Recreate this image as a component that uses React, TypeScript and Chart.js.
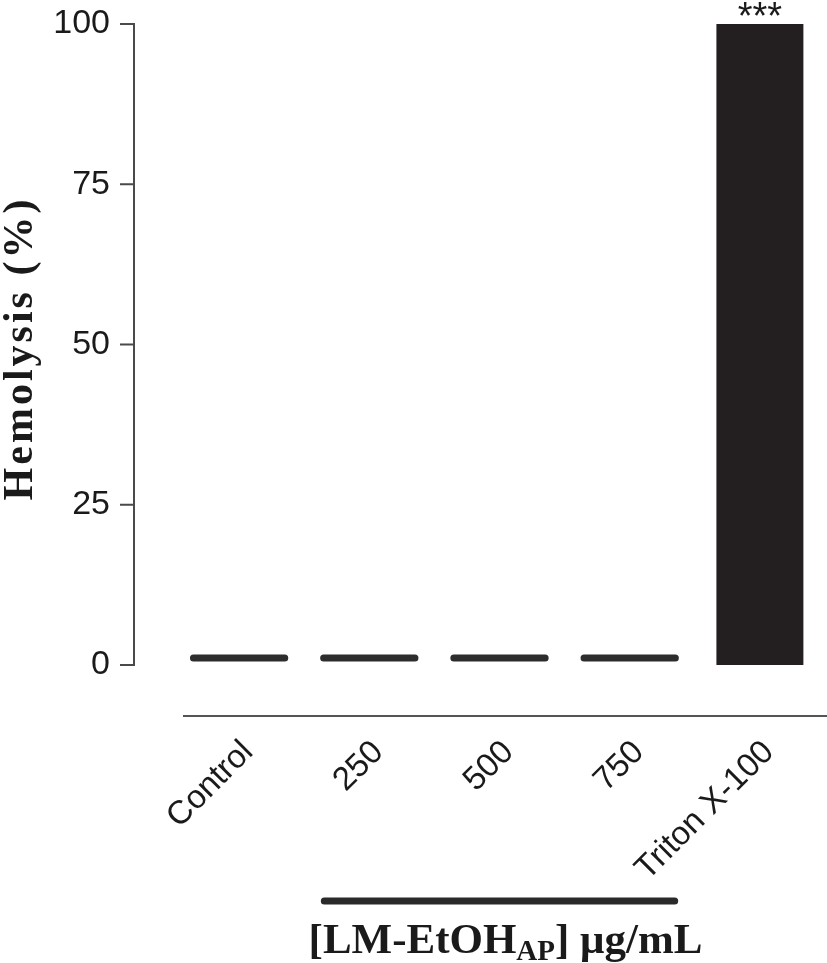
import { useEffect, useRef } from "react";
import { Chart, registerables } from "chart.js";

Chart.register(...registerables);

const categories = ["Control", "250", "500", "750", "Triton X-100"];
// extracts shown as thin floating bars (low/high edge of each marker, % hemolysis)
const extractLow = [0.55, 0.55, 0.55, 0.55, null];
const extractHigh = [1.65, 1.65, 1.65, 1.65, null];
// positive control
const tritonValues = [null, null, null, null, 100];
const significance = ["", "", "", "", "***"];
const yTickValues = [0, 25, 50, 75, 100];
const yTitle = "Hemolysis (%)";
const groupTitleMain = "[LM-EtOH";
const groupTitleSub = "AP";
const groupTitleEnd = "] \u03bcg/mL";
const groupFrom = 1;
const groupTo = 3;

const SANS = "'Liberation Sans', Arial, sans-serif";
const SERIF = "'Liberation Serif', 'Times New Roman', serif";

const overlay = {
  id: "overlay",
  afterDraw(chart: any) {
    const { ctx, chartArea, scales } = chart;
    const xs = scales.x;
    const ys = scales.y;
    ctx.save();
    // y axis line + ticks
    const ax = chartArea.left - 40;
    const yTop = ys.getPixelForValue(100);
    const yBot = ys.getPixelForValue(0);
    ctx.strokeStyle = "#4a4a4a";
    ctx.lineWidth = 2;
    ctx.beginPath();
    ctx.moveTo(ax, yTop - 1);
    ctx.lineTo(ax, yBot + 1);
    yTickValues.forEach((v) => {
      const py = ys.getPixelForValue(v);
      ctx.moveTo(ax - 14, py);
      ctx.lineTo(ax + 1, py);
    });
    ctx.stroke();

    // x baseline
    ctx.strokeStyle = "#555555";
    ctx.lineWidth = 2;
    ctx.beginPath();
    ctx.moveTo(chartArea.left + 9, chartArea.bottom + 51);
    ctx.lineTo(chart.width, chartArea.bottom + 51);
    ctx.stroke();

    // significance marks
    ctx.fillStyle = "#1a1a1a";
    ctx.font = `38px ${SANS}`;
    ctx.textAlign = "center";
    ctx.textBaseline = "alphabetic";
    significance.forEach((s, i) => {
      if (!s) return;
      const px = xs.getPixelForValue(i);
      const top = Math.min(ys.getPixelForValue(tritonValues[i] ?? 0), ys.getPixelForValue(100));
      ctx.fillText(s, px, top + 5);
    });

    // group bar
    const c = xs.getPixelForValue(2);
    const half = (xs.getPixelForValue(groupTo) - xs.getPixelForValue(groupFrom)) / 2 + 48;
    ctx.strokeStyle = "#2a2a2a";
    ctx.lineWidth = 7;
    ctx.lineCap = "round";
    ctx.beginPath();
    ctx.moveTo(c - half + 3, chartArea.bottom + 236);
    ctx.lineTo(c + half - 3, chartArea.bottom + 236);
    ctx.stroke();

    // group title
    ctx.fillStyle = "#1a1a1a";
    ctx.textAlign = "left";
    const mainFont = `bold 43px ${SERIF}`;
    const subFont = `bold 29px ${SERIF}`;
    ctx.font = mainFont;
    const w1 = ctx.measureText(groupTitleMain).width;
    const w3 = ctx.measureText(groupTitleEnd).width;
    ctx.font = subFont;
    const w2 = ctx.measureText(groupTitleSub).width;
    const total = w1 + w2 + w3;
    let tx = c + 6 - total / 2;
    const base = chartArea.bottom + 288;
    ctx.font = mainFont;
    ctx.fillText(groupTitleMain, tx, base);
    tx += w1;
    ctx.font = subFont;
    ctx.fillText(groupTitleSub, tx, base + 7);
    tx += w2;
    ctx.font = mainFont;
    ctx.fillText(groupTitleEnd, tx, base);

    // y title
    ctx.translate(32, (yTop + yBot) / 2 + 4);
    ctx.rotate(-Math.PI / 2);
    ctx.font = `bold 42px ${SERIF}`;
    (ctx as any).letterSpacing = "3px";
    ctx.textAlign = "center";
    ctx.fillText(yTitle, 0, 0);
    ctx.restore();
  },
};

const zeroPad = (s: any) => {
  s.paddingTop = 0;
  s.paddingBottom = 0;
  s.paddingLeft = 0;
  s.paddingRight = 0;
};

export default function App() {
  const ref = useRef<HTMLCanvasElement | null>(null);
  useEffect(() => {
    if (!ref.current) return;
    const chart = new Chart(ref.current, {
      type: "bar",
      data: {
        labels: categories,
        datasets: [
          {
            label: "LM-EtOH",
            data: categories.map((_, i) =>
              extractLow[i] == null ? null : [extractLow[i] as number, extractHigh[i] as number]
            ) as any,
            backgroundColor: "#2d2d2d",
            borderRadius: 4,
            borderSkipped: false,
            grouped: false,
            barPercentage: 0.755,
            categoryPercentage: 1,
          },
          {
            label: "Triton X-100",
            data: tritonValues as any,
            backgroundColor: "#231f20",
            grouped: false,
            barPercentage: 0.668,
            categoryPercentage: 1,
          },
        ],
      },
      options: {
        responsive: false,
        animation: false,
        layout: { padding: { top: 24, right: 2, left: 0, bottom: 0 } },
        plugins: { legend: { display: false }, tooltip: { enabled: false } },
        scales: {
          x: {
            type: "category",
            offset: true,
            grid: { display: false, drawTicks: false },
            border: { display: false },
            ticks: {
              autoSkip: false,
              minRotation: 45,
              maxRotation: 45,
              padding: 68,
              labelOffset: 9,
              color: "#1a1a1a",
              font: { family: SANS, size: 33 },
            },
            afterFit: (s: any) => {
              s.height = 298;
              zeroPad(s);
            },
          },
          y: {
            min: 0,
            max: 100,
            grid: { display: false, drawTicks: false },
            border: { display: false },
            ticks: {
              stepSize: 25,
              padding: 64,
              color: "#1a1a1a",
              font: { family: SANS, size: 34 },
            },
            afterFit: (s: any) => {
              s.width = 174;
              zeroPad(s);
            },
          },
        },
      },
      plugins: [overlay],
    });
    return () => chart.destroy();
  }, []);
  return (
    <div style={{ position: "absolute", left: 0, top: 0, width: 827, height: 963, background: "#fff" }}>
      <canvas ref={ref} width={827} height={963} style={{ display: "block" }} />
    </div>
  );
}
